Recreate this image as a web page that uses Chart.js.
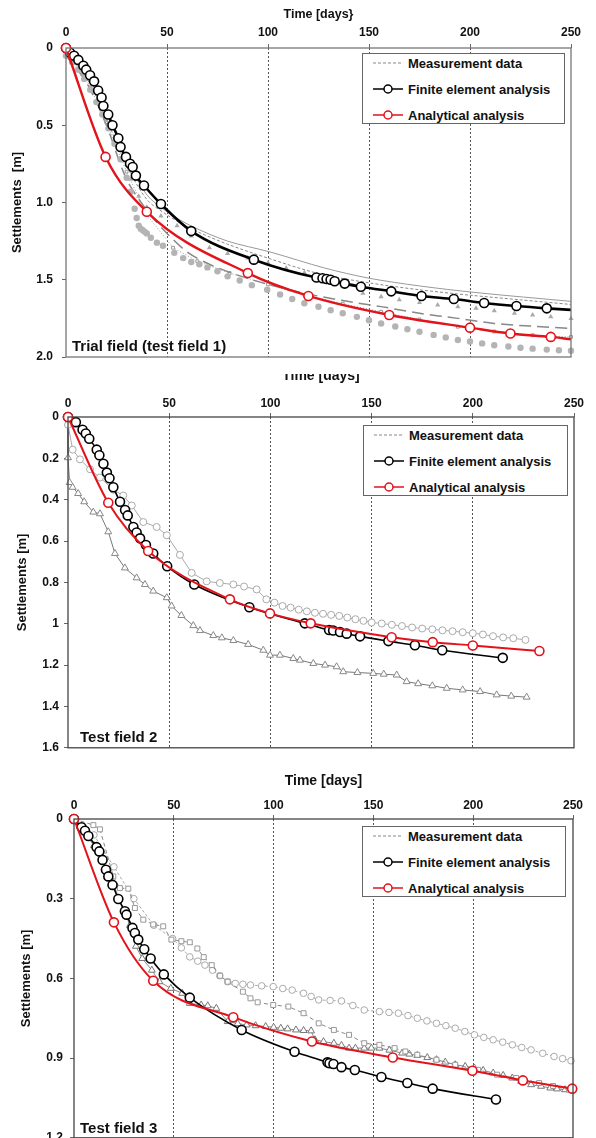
<!DOCTYPE html>
<html>
<head>
<meta charset="utf-8">
<script src="https://cdn.jsdelivr.net/npm/chart.js@4.4.0/dist/chart.umd.min.js"></script>
<style>
body { margin: 0; width: 596px; height: 1138px; overflow: hidden; background: #fff; position: relative; font-family: "Liberation Sans", Arial, sans-serif; }
.panel { position: absolute; left: 0; width: 596px; background: #fff; }
.panel canvas { display: block; }
.legend { position: absolute; background: #fff; border: 1px solid #666; font-weight: bold; font-size: 13px; color: #111; z-index: 10; box-sizing: border-box; }
.legend .row { position: absolute; left: 10px; height: 16px; display: flex; align-items: center; white-space: nowrap; }
.legend svg { margin-right: 3px; }
.tag { position: absolute; font-weight: bold; font-size: 15px; color: #111; z-index: 10; white-space: nowrap; }
</style>
</head>
<body>
<div class="panel" id="p1" style="top:0;height:374px;z-index:3"><canvas id="c1" width="596" height="374"></canvas></div>
<div class="panel" id="p2" style="top:366px;height:394px;z-index:2"><canvas id="c2" width="596" height="394"></canvas></div>
<div class="panel" id="p3" style="top:760px;height:392px;z-index:1"><canvas id="c3" width="596" height="392"></canvas></div>

<div class="tag" style="left:72px;top:337px;z-index:5">Trial field (test field 1)</div>
<div class="tag" style="left:80px;top:728px;z-index:5">Test field 2</div>
<div class="tag" style="left:80px;top:1119px;z-index:5">Test field 3</div>

<script>
// ---------- Trial field (test field 1) ----------
const p1FeT = [0, 2, 4, 6.1, 8.6, 10, 11.9, 13.9, 15.9, 17.6, 18.5, 20.9, 23, 25.9, 27, 29.7, 31.7, 33, 34.6, 38.6, 47, 62, 93, 124, 127, 129, 131, 133, 138, 146, 161, 176, 192, 207, 223, 238, 250];
const p1FeS = [0, 0.03, 0.05, 0.077, 0.115, 0.14, 0.176, 0.216, 0.275, 0.32, 0.375, 0.43, 0.5, 0.584, 0.64, 0.705, 0.749, 0.77, 0.826, 0.89, 1.01, 1.185, 1.37, 1.485, 1.49, 1.495, 1.5, 1.51, 1.525, 1.545, 1.575, 1.605, 1.625, 1.65, 1.67, 1.685, 1.695];
const p1AnT = [0, 19.6, 40, 90, 120, 160, 200, 220, 240, 250];
const p1AnS = [0, 0.705, 1.06, 1.457, 1.605, 1.728, 1.81, 1.848, 1.87, 1.885];
const p1DotT = [0, 3, 6, 9, 12, 15, 18, 21, 24, 27, 30, 32, 34, 35, 36, 37, 38, 39, 40, 42, 45, 48, 53.6, 58, 62, 66, 70, 75, 80, 86, 92, 99.6, 106, 112, 118, 125, 131, 137, 144, 150, 156, 163, 169, 175, 182, 188, 194, 200, 206, 212, 219, 225, 231, 238, 244, 250];
const p1DotS = [0.05, 0.09, 0.14, 0.2, 0.27, 0.35, 0.43, 0.52, 0.62, 0.72, 0.84, 0.93, 1.04, 1.1, 1.15, 1.17, 1.18, 1.19, 1.2, 1.228, 1.26, 1.28, 1.326, 1.36, 1.385, 1.4, 1.42, 1.445, 1.478, 1.505, 1.535, 1.565, 1.595, 1.625, 1.652, 1.675, 1.697, 1.717, 1.74, 1.762, 1.783, 1.803, 1.82, 1.837, 1.857, 1.873, 1.89, 1.9, 1.912, 1.924, 1.932, 1.94, 1.946, 1.952, 1.956, 1.96];
const p1TriT = [0, 4, 8, 12, 16, 20, 24, 28, 32, 36, 40, 47, 55, 62, 71, 80, 90, 100, 109, 118, 128, 137, 147, 156, 165, 175, 184, 194, 203, 212, 222, 231, 240, 250];
const p1TriS = [0.04, 0.1, 0.17, 0.26, 0.36, 0.47, 0.6, 0.73, 0.85, 0.96, 1.03, 1.087, 1.15, 1.217, 1.293, 1.33, 1.36, 1.39, 1.424, 1.455, 1.49, 1.545, 1.587, 1.61, 1.63, 1.648, 1.663, 1.675, 1.685, 1.7, 1.717, 1.728, 1.74, 1.75];
const p1ThinT = [0, 10, 20, 30, 40, 50, 62, 80, 101, 128, 150, 175, 203, 250];
const p1ThinS = [0.03, 0.17, 0.42, 0.72, 0.95, 1.06, 1.152, 1.25, 1.32, 1.424, 1.49, 1.54, 1.583, 1.64];
const p1DashT = [0, 10, 20, 30, 40, 50, 62, 80, 100, 125, 150, 175, 200, 225, 250];
const p1DashS = [0.03, 0.19, 0.46, 0.76, 0.98, 1.08, 1.17, 1.27, 1.36, 1.46, 1.52, 1.565, 1.6, 1.63, 1.66];
const p1LongT = [0, 10, 20, 30, 40, 50, 60, 71, 85, 100, 118, 137, 156, 175, 194, 212, 230, 250];
const p1LongS = [0.05, 0.22, 0.5, 0.85, 1.05, 1.2, 1.32, 1.4, 1.47, 1.53, 1.587, 1.635, 1.674, 1.717, 1.75, 1.783, 1.8, 1.815];
const p1SqT = [0, 10, 20, 30, 40, 53, 65, 81, 100, 118, 137, 156, 175, 194, 212, 231, 250];
const p1SqS = [0.04, 0.2, 0.48, 0.8, 1.08, 1.293, 1.38, 1.457, 1.53, 1.598, 1.655, 1.707, 1.757, 1.804, 1.835, 1.859, 1.87];

// ---------- Test field 2 ----------
const p2FeT = [0, 3.9, 7.2, 8.8, 10.5, 14.2, 15.5, 17.5, 19.2, 20.5, 22.4, 25.7, 28.2, 29.5, 32.3, 33.9, 35.6, 38.5, 42.1, 49, 62.4, 89.6, 117, 129, 131, 134.4, 137.7, 144.3, 158.3, 171.4, 184.9, 214.8];
const p2FeS = [0, 0.025, 0.062, 0.08, 0.105, 0.158, 0.185, 0.226, 0.269, 0.296, 0.34, 0.41, 0.45, 0.476, 0.532, 0.559, 0.587, 0.619, 0.66, 0.722, 0.81, 0.92, 0.998, 1.03, 1.033, 1.04, 1.048, 1.061, 1.084, 1.104, 1.128, 1.165];
const p2AnT = [0, 19.9, 39.6, 80, 99.8, 119.9, 159.9, 180.2, 200, 232.9];
const p2AnS = [0, 0.415, 0.648, 0.882, 0.95, 0.998, 1.065, 1.089, 1.105, 1.132];
const p2CirT = [0, 2.3, 5.9, 10.9, 15.8, 22.4, 27.3, 31.5, 37.2, 43.8, 48.8, 55.3, 61.1, 68.5, 75, 81.7, 87, 93.2, 98, 102, 106, 110, 114, 118, 122, 126, 130, 134, 138, 142, 146, 150, 155, 160, 165, 170, 175, 180, 185, 190, 195, 200, 205, 210, 215, 220, 226];
const p2CirS = [0.038, 0.158, 0.205, 0.253, 0.293, 0.352, 0.38, 0.428, 0.508, 0.532, 0.572, 0.667, 0.754, 0.795, 0.803, 0.81, 0.82, 0.834, 0.882, 0.898, 0.914, 0.922, 0.932, 0.94, 0.947, 0.952, 0.957, 0.962, 0.97, 0.978, 0.986, 0.994, 0.999, 1.005, 1.011, 1.018, 1.023, 1.027, 1.032, 1.036, 1.041, 1.046, 1.052, 1.06, 1.066, 1.07, 1.078];
const p2TriT = [0, 0, 0.8, 2.3, 5, 8, 12.5, 15.8, 19.9, 23.2, 28.1, 33.9, 38, 42.1, 48.8, 51.2, 56, 61.9, 65.2, 71.8, 76, 81.7, 89, 96.5, 99.8, 104.7, 111.3, 114.6, 121.2, 127, 132.7, 136, 143, 150.8, 156, 162.4, 167.3, 173, 180, 187.1, 195, 203.6, 211.8, 219, 226.6];
const p2TriS = [0.03, 0.197, 0.317, 0.34, 0.37, 0.41, 0.46, 0.468, 0.555, 0.66, 0.73, 0.778, 0.81, 0.842, 0.874, 0.914, 0.96, 1.009, 1.033, 1.057, 1.068, 1.081, 1.1, 1.128, 1.152, 1.152, 1.168, 1.176, 1.192, 1.2, 1.208, 1.232, 1.236, 1.24, 1.244, 1.248, 1.28, 1.29, 1.3, 1.312, 1.32, 1.328, 1.344, 1.35, 1.355];

// ---------- Test field 3 ----------
const p3FeT = [0, 3.8, 5.5, 7.2, 11.3, 12.7, 14.3, 16, 17.2, 19.3, 22.2, 25.5, 26.3, 29.3, 30.5, 32.2, 35.2, 38.4, 45, 58, 84, 110.5, 127, 128, 130, 134, 140.7, 154, 167, 179.7, 211.4];
const p3FeS = [0, 0.031, 0.044, 0.064, 0.106, 0.122, 0.154, 0.191, 0.216, 0.248, 0.301, 0.347, 0.36, 0.41, 0.429, 0.454, 0.49, 0.525, 0.585, 0.6725, 0.794, 0.876, 0.916, 0.919, 0.922, 0.934, 0.945, 0.971, 0.994, 1.015, 1.056];
const p3AnT = [0, 20, 39.7, 79.8, 119.2, 159.7, 199.6, 224.9, 249.6];
const p3AnS = [0, 0.389, 0.609, 0.746, 0.8375, 0.8975, 0.9475, 0.984, 1.015];
const p3SqT = [0, 9.7, 13, 19.7, 23, 27.2, 30.5, 34.7, 39.7, 44.7, 48.8, 53.8, 58, 61.8, 65, 69, 73.2, 77, 84.6, 88.4, 92, 99.8, 107.4, 115, 122.6, 130.2, 137.8, 145.4, 153, 160.6, 166, 172, 181.6, 191, 202.5, 212, 221.5, 233, 240, 248];
const p3SqS = [0, 0.023, 0.039, 0.216, 0.26, 0.262, 0.335, 0.379, 0.397, 0.404, 0.454, 0.46, 0.464, 0.4875, 0.52, 0.55, 0.59, 0.6125, 0.65, 0.675, 0.69, 0.7, 0.706, 0.731, 0.769, 0.794, 0.8125, 0.844, 0.85, 0.8625, 0.875, 0.8875, 0.906, 0.925, 0.944, 0.9625, 0.975, 0.994, 1.005, 1.019];
const p3CirT = [0, 10, 20, 30, 40, 49.4, 53.8, 58, 62, 65.6, 69.4, 73, 77, 80.8, 84.6, 88.4, 94, 99.8, 104.6, 109.3, 115, 118.8, 122.6, 128.3, 134, 139.7, 145.4, 153, 157.8, 162.5, 167.3, 172, 176.8, 181.6, 186.3, 191, 195.8, 200.6, 205.3, 210, 214.8, 219.6, 224.3, 229, 234.8, 240.5, 244.8, 249];
const p3CirS = [0, 0.06, 0.18, 0.3, 0.4, 0.45, 0.485, 0.519, 0.535, 0.55, 0.569, 0.59, 0.6125, 0.619, 0.622, 0.625, 0.628, 0.631, 0.638, 0.644, 0.656, 0.668, 0.681, 0.683, 0.685, 0.702, 0.719, 0.725, 0.728, 0.731, 0.74, 0.75, 0.76, 0.769, 0.778, 0.7875, 0.8, 0.8125, 0.822, 0.831, 0.84, 0.85, 0.86, 0.869, 0.882, 0.894, 0.902, 0.91];
const p3TriT = [0, 10, 20, 28, 31, 34.2, 39, 42.8, 48.5, 54.2, 58, 63.7, 67, 71.3, 77, 82, 86.5, 91, 96, 100, 103.6, 107, 111.2, 115, 118.8, 120.7, 125, 130.2, 134, 137.8, 141, 145.4, 149, 153, 158, 164.4, 168, 172, 177, 181.6, 186, 191, 196, 200.6, 205, 210, 215, 219.6, 224, 229, 234, 238.6, 242, 246];
const p3TriS = [0, 0.1, 0.25, 0.4, 0.479, 0.525, 0.569, 0.6125, 0.6375, 0.656, 0.694, 0.7, 0.703, 0.7125, 0.7625, 0.77, 0.775, 0.778, 0.781, 0.784, 0.7875, 0.79, 0.794, 0.796, 0.7975, 0.831, 0.838, 0.844, 0.852, 0.8625, 0.8625, 0.8625, 0.8625, 0.8625, 0.87, 0.881, 0.885, 0.89, 0.898, 0.906, 0.915, 0.925, 0.931, 0.9375, 0.946, 0.956, 0.965, 0.975, 0.987, 1.0, 1.006, 1.0125, 1.016, 1.019];

const RED = '#e3121b';
const pts = (t, s) => t.map((v, i) => ({ x: v, y: s[i] }));
// hide the marker on the last point when the line just runs on to the border
const radii = (n, r, hideLast) => Array.from({ length: n }, (_, i) => (hideLast && i === n - 1 ? 0 : r));

const frame = {
    id: 'frame',
    afterDraw(chart, args, opts) {
        const { ctx, chartArea: a } = chart;
        ctx.save();
        ctx.strokeStyle = opts.color || '#666';
        ctx.lineWidth = 1.3;
        ctx.strokeRect(a.left, a.top, a.width, a.height);
        ctx.restore();
    }
};

const fe = (t, s, w, hideLast) => ({
    data: pts(t, s), order: 1, borderColor: '#000', borderWidth: w,
    pointRadius: radii(t.length, 4.5, hideLast), pointBackgroundColor: '#fff', pointBorderColor: '#000', pointBorderWidth: 1.6,
    cubicInterpolationMode: 'monotone', clip: false
});
const an = (t, s, w, hideLast) => ({
    data: pts(t, s), order: 0, borderColor: RED, borderWidth: w,
    pointRadius: radii(t.length, 4.5, hideLast), pointBackgroundColor: '#fff', pointBorderColor: RED, pointBorderWidth: 1.6,
    cubicInterpolationMode: 'monotone', clip: false
});

function makeChart(id, p) {
    return new Chart(document.getElementById(id), {
        type: 'line',
        data: { datasets: p.datasets },
        plugins: [frame],
        options: {
            responsive: false,
            animation: false,
            layout: { padding: { left: 0, right: p.right, top: 0, bottom: p.bottom } },
            plugins: { legend: { display: false }, tooltip: { enabled: false }, frame: { color: p.frameColor } },
            scales: {
                x: {
                    type: 'linear', position: 'top', min: 0, max: 250,
                    afterFit: s => { s.height = p.top; },
                    title: { display: true, text: p.xTitle, color: '#111', font: { weight: 'bold', size: p.xTitleSize }, padding: { top: p.xTitlePad, bottom: 0 } },
                    ticks: { stepSize: 50, color: '#111', font: { weight: 'bold', size: 12 }, padding: p.xTickPad, maxRotation: 0 },
                    grid: {
                        color: c => (c.tick && (c.tick.value === 0 || c.tick.value === 250) ? 'rgba(0,0,0,0)' : '#555'),
                        lineWidth: 1, tickLength: 4, tickColor: '#666'
                    },
                    border: { display: false, dash: [2, 2] }
                },
                y: {
                    type: 'linear', reverse: true, min: 0, max: p.ymax,
                    afterFit: s => { s.width = p.left; },
                    title: { display: true, text: p.yTitle, color: '#111', font: { weight: 'bold', size: 13 }, padding: { top: p.yTitlePad, bottom: 0 } },
                    ticks: { stepSize: p.ystep, color: '#111', font: { weight: 'bold', size: 12 }, padding: p.yTickPad, callback: p.yfmt },
                    grid: { drawOnChartArea: false, tickLength: 4, tickColor: '#666' },
                    border: { display: false }
                }
            }
        }
    });
}

const fmtPlain = v => String(+v.toFixed(1));

makeChart('c1', {
    left: 66, right: 25, top: 48, bottom: 17, ymax: 2, ystep: 0.5, frameColor: '#777',
    yfmt: v => (v === 0 ? '0' : v.toFixed(1)),
    xTitle: 'Time [days}', xTitleSize: 12.5, xTitlePad: 7, xTickPad: 4, yTitle: 'Settlements  [m]', yTitlePad: 10, yTickPad: 9,
    datasets: [
        an(p1AnT, p1AnS, 2.4, true),
        fe(p1FeT, p1FeS, 2.6, true),
        { data: pts(p1DotT, p1DotS), order: 2, showLine: false, pointRadius: 3.2, pointBackgroundColor: '#b4b4b4', pointBorderWidth: 0, clip: false },
        { data: pts(p1TriT, p1TriS), order: 2, showLine: false, pointStyle: 'triangle', pointRadius: 3, pointBackgroundColor: '#aaa', pointBorderColor: '#aaa', pointBorderWidth: 0, clip: false },
        { data: pts(p1ThinT, p1ThinS), order: 3, borderColor: '#999', borderWidth: 1, pointRadius: 0, tension: 0.3, clip: false },
        { data: pts(p1DashT, p1DashS), order: 3, borderColor: '#888', borderWidth: 1, borderDash: [3, 2], pointRadius: 0, tension: 0.3, clip: false },
        { data: pts(p1LongT, p1LongS), order: 3, borderColor: '#888', borderWidth: 1.5, borderDash: [12, 6], pointRadius: 0, tension: 0.3, clip: false },
        { data: pts(p1SqT, p1SqS), order: 3, borderColor: '#999', borderWidth: 1, borderDash: [1, 2], pointStyle: 'rect', pointRadius: 2, pointBackgroundColor: '#fff', pointBorderColor: '#999', pointBorderWidth: 1, clip: false }
    ]
});

makeChart('c2', {
    left: 68, right: 22, top: 51, bottom: 8, ymax: 1.6, ystep: 0.2, frameColor: '#444',
    yfmt: fmtPlain,
    xTitle: 'Time [days]', xTitleSize: 14, xTitlePad: 2, xTickPad: 2, yTitle: 'Settlements [m]', yTitlePad: 15, yTickPad: 5,
    datasets: [
        an(p2AnT, p2AnS, 2, false),
        fe(p2FeT, p2FeS, 1.6, false),
        { data: pts(p2CirT, p2CirS), order: 2, borderColor: '#aaa', borderWidth: 1, pointRadius: 3.5, pointBackgroundColor: '#fff', pointBorderColor: '#aaa', pointBorderWidth: 1, clip: false },
        { data: pts(p2TriT, p2TriS), order: 2, borderColor: '#777', borderWidth: 1, pointStyle: 'triangle', pointRadius: 4, pointBackgroundColor: '#fff', pointBorderColor: '#888', pointBorderWidth: 1, clip: false }
    ]
});

makeChart('c3', {
    left: 74, right: 23, top: 59, bottom: 13, ymax: 1.2, ystep: 0.3, frameColor: '#444',
    yfmt: fmtPlain,
    xTitle: 'Time [days]', xTitleSize: 14, xTitlePad: 13, xTickPad: 2, yTitle: 'Settlements [m]', yTitlePad: 19, yTickPad: 7,
    datasets: [
        an(p3AnT, p3AnS, 2, false),
        fe(p3FeT, p3FeS, 1.6, false),
        { data: pts(p3SqT, p3SqS), order: 2, borderColor: '#888', borderWidth: 1, borderDash: [4, 3], pointStyle: 'rect', pointRadius: 3.5, pointBackgroundColor: '#fff', pointBorderColor: '#999', pointBorderWidth: 1, clip: false },
        { data: pts(p3CirT, p3CirS), order: 2, borderColor: '#aaa', borderWidth: 1, borderDash: [3, 2], pointRadius: 3.3, pointBackgroundColor: '#fff', pointBorderColor: '#aaa', pointBorderWidth: 1, clip: false },
        { data: pts(p3TriT, p3TriS), order: 2, borderColor: '#888', borderWidth: 1, pointStyle: 'triangle', pointRadius: 4, pointBackgroundColor: '#fff', pointBorderColor: '#777', pointBorderWidth: 1, clip: false }
    ]
});

// legends inside the plots
const legendItems = [
    ['Measurement data', '<line x1="0" y1="7" x2="30" y2="7" stroke="#888" stroke-width="1.2" stroke-dasharray="3,2"/>'],
    ['Finite element analysis', '<line x1="0" y1="7" x2="30" y2="7" stroke="#000" stroke-width="1.5"/><circle cx="15" cy="7" r="4" fill="#fff" stroke="#000" stroke-width="1.5"/>'],
    ['Analytical analysis', '<line x1="0" y1="7" x2="30" y2="7" stroke="' + RED + '" stroke-width="1.5"/><circle cx="15" cy="7" r="4" fill="#fff" stroke="' + RED + '" stroke-width="1.5"/>']
];
function addLegend(left, top, width) {
    const box = document.createElement('div');
    box.className = 'legend';
    box.style.cssText = `left:${left}px;top:${top}px;width:${width}px;height:71px`;
    legendItems.forEach((it, i) => {
        const row = document.createElement('div');
        row.className = 'row';
        row.style.top = (1 + i * 26) + 'px';
        row.innerHTML = `<svg width="32" height="14">${it[1]}</svg><span>${it[0]}</span>`;
        box.appendChild(row);
    });
    document.body.appendChild(box);
}
addLegend(362, 53, 203);
addLegend(363, 425, 205);
addLegend(362, 826, 204);
</script>
</body>
</html>
